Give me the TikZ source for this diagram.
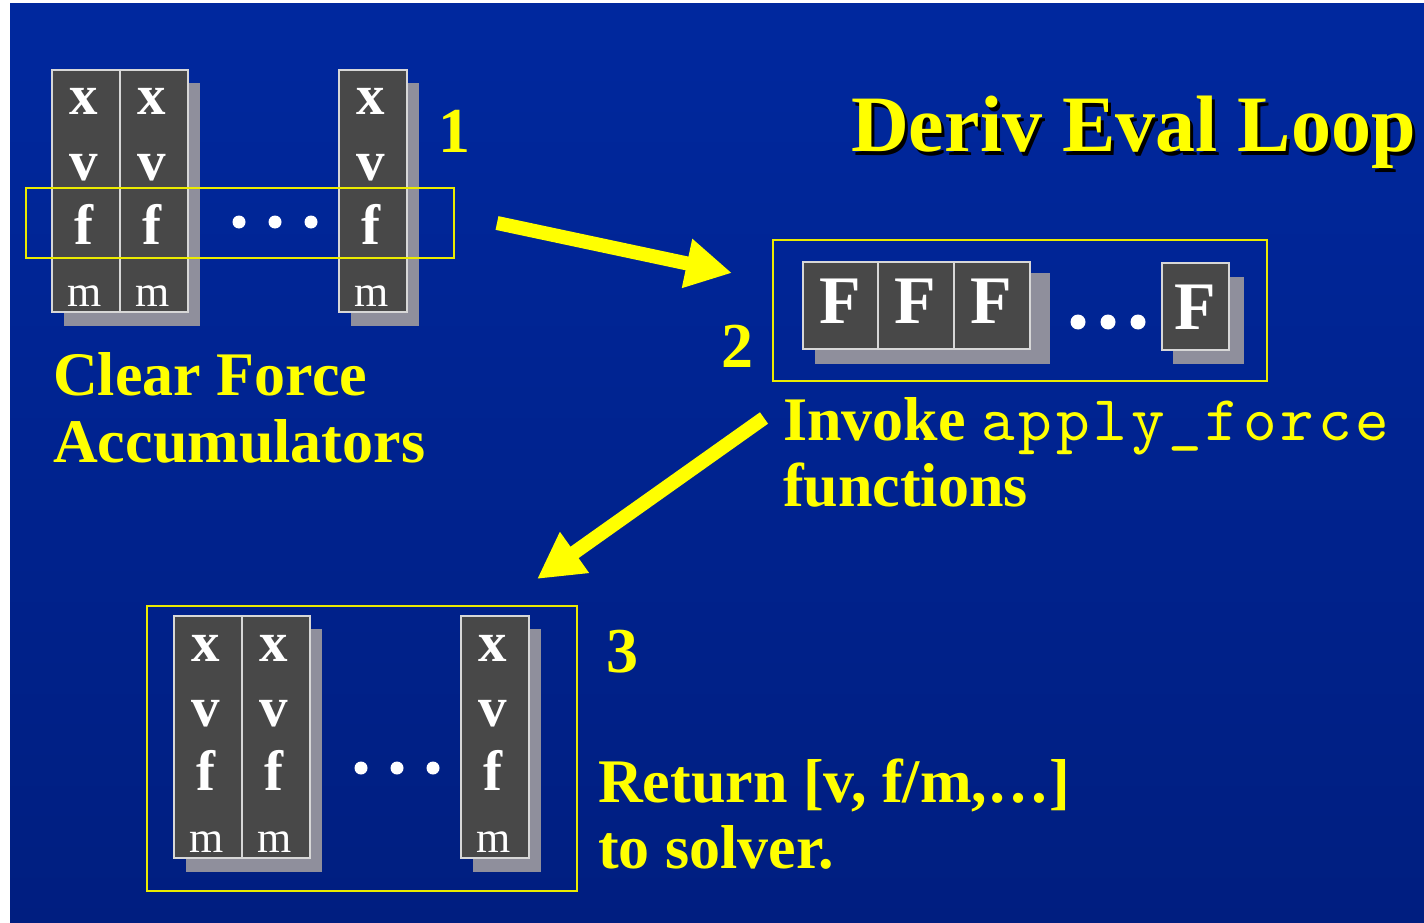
\documentclass[tikz,border=0pt]{standalone}
\usepackage{fontspec}
\setmainfont{Liberation Serif}
\newfontfamily\codefont{lmmono10-regular.otf}[LetterSpace=6]
\usetikzlibrary{arrows.meta}
\definecolor{bgtop}{RGB}{0,40,158}
\definecolor{bgbot}{RGB}{0,30,128}
\definecolor{cellgray}{RGB}{72,72,72}
\definecolor{celledge}{RGB}{215,215,215}
\definecolor{shadowgray}{RGB}{143,143,156}
\definecolor{ylw}{RGB}{255,255,0}
\definecolor{frameylw}{RGB}{235,235,0}
\tikzset{
  pcell/.style={draw=celledge, fill=cellgray, line width=2pt, inner sep=0pt, outer sep=0pt, anchor=north west},
  shadowbox/.style={fill=shadowgray},
  yframe/.style={draw=frameylw, line width=1.6pt},
  letterbold/.style={text=white, font=\fontsize{57}{57}\selectfont\bfseries, anchor=base, inner sep=0pt},
  letterreg/.style={text=white, font=\fontsize{44}{44}\selectfont, anchor=base, inner sep=0pt},
  bigF/.style={text=white, font=\fontsize{68}{68}\selectfont\bfseries, anchor=base, inner sep=0pt},
  ytext/.style={text=ylw, font=\fontsize{62}{62}\selectfont\bfseries, anchor=base west, inner sep=0pt},
  titletext/.style={text=ylw, font=\fontsize{80}{80}\selectfont\bfseries, anchor=base west, inner sep=0pt},
  stepnum/.style={text=ylw, font=\fontsize{64}{64}\selectfont\bfseries, anchor=base, inner sep=0pt},
  bigarrow/.style={draw=ylw, line width=14pt, -{Triangle[width=47pt,length=46pt]}},
  wdot/.style={circle, fill=white, inner sep=0pt},
}
\newcommand{\pcolumn}[3]{%
  \node[pcell, minimum width=68pt, minimum height=242pt] (#1) at (#2,#3) {};
  \node[letterbold] (#1-x) at ([xshift=32pt,yshift=-45pt]#1.north west) {x};
  \node[letterbold] (#1-v) at ([xshift=32pt,yshift=-110pt]#1.north west) {v};
  \node[letterbold] (#1-f) at ([xshift=32pt,yshift=-174pt]#1.north west) {f};
  \node[letterreg] (#1-m) at ([xshift=33pt,yshift=-236pt]#1.north west) {m};
}
\begin{document}
\begin{tikzpicture}[x=1pt,y=-1pt]
\useasboundingbox (0,0) rectangle (1424,923);
\shade[top color=bgtop, bottom color=bgbot] (10,4) rectangle (1424,923);

% ---- block 1 : particle columns
\fill[shadowbox] (64,83) rectangle (200,326);
\fill[shadowbox] (351,83) rectangle (419,326);
\pcolumn{pa}{52}{70}
\pcolumn{pb}{120}{70}
\pcolumn{pc}{339}{70}
\node[wdot, minimum size=13pt] (d1a) at (239,222) {};
\node[wdot, minimum size=13pt] (d1b) at (275,222) {};
\node[wdot, minimum size=13pt] (d1c) at (311,222) {};
\draw[yframe] (26,188) rectangle (454,258);
\node[stepnum] (n1) at (454,153) {1};
\node[ytext] (t1a) at (53,395) {Clear Force};
\node[ytext] (t1b) at (53,462) {Accumulators};

% ---- title
\node[titletext, text=black] (titleshadow) at (854,155) {Deriv Eval Loop};
\node[titletext] (title) at (851,152) {Deriv Eval Loop};

% ---- block 2 : force objects
\draw[yframe] (773,240) rectangle (1267,381);
\fill[shadowbox] (815,273) rectangle (1050,364);
\fill[shadowbox] (1173,277) rectangle (1244,364);
\node[pcell, minimum width=75pt, minimum height=87pt] (fa) at (803,262) {};
\node[pcell, minimum width=76pt, minimum height=87pt] (fb) at (878,262) {};
\node[pcell, minimum width=76pt, minimum height=87pt] (fc) at (954,262) {};
\node[pcell, minimum width=67pt, minimum height=87pt] (fd) at (1162,263) {};
\node[bigF] (fa-t) at (840,323) {F};
\node[bigF] (fb-t) at (915,323) {F};
\node[bigF] (fc-t) at (991,323) {F};
\node[bigF] (fd-t) at (1195,329) {F};
\node[wdot, minimum size=15pt] (d2a) at (1078,322) {};
\node[wdot, minimum size=15pt] (d2b) at (1108,322) {};
\node[wdot, minimum size=15pt] (d2c) at (1138,322) {};
\node[stepnum] (n2) at (737,367) {2};
\node[ytext] (t2a) at (783,440) {Invoke {\mdseries\fontsize{64}{64}\codefont apply\_force}};
\node[ytext] (t2b) at (783,506) {functions};

% ---- block 3 : particle columns with derivatives
\draw[yframe] (147,606) rectangle (577,891);
\fill[shadowbox] (186,629) rectangle (322,872);
\fill[shadowbox] (473,629) rectangle (541,872);
\pcolumn{qa}{174}{616}
\pcolumn{qb}{242}{616}
\pcolumn{qc}{461}{616}
\node[wdot, minimum size=13pt] (d3a) at (361,768) {};
\node[wdot, minimum size=13pt] (d3b) at (397,768) {};
\node[wdot, minimum size=13pt] (d3c) at (433,768) {};
\node[stepnum] (n3) at (622,672) {3};
\node[ytext] (t3a) at (598,802) {Return [v, f/m,…]};
\node[ytext] (t3b) at (598,868) {to solver.};

% ---- arrows
\coordinate (a1s) at (497,223);
\coordinate (a1e) at (732,273);
\coordinate (a2s) at (764,418);
\coordinate (a2e) at (537,579);
\draw[bigarrow] (a1s) -- (a1e);
\draw[bigarrow] (a2s) -- (a2e);
\end{tikzpicture}
\end{document}
